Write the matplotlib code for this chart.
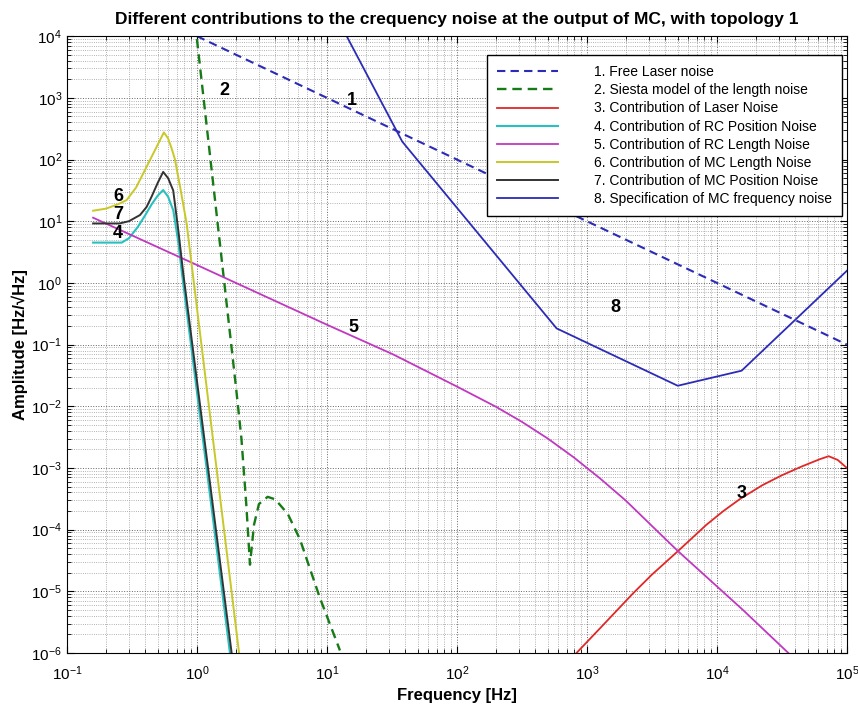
"""
Noise budget at the output of the mode cleaner (topology 1).
Log-log plot of the contributions to the frequency noise.
"""

import numpy as np
import matplotlib
matplotlib.use("Agg")
import matplotlib.pyplot as plt
from matplotlib.ticker import LogLocator

# --- Curve data ---
# 1. Free laser noise
f_laser_free = [1.0, 1e5]
a_laser_free = [1e4, 0.1]

# 2. Siesta model of the length noise
f_siesta = [1.0, 1.5, 2.0, 2.2, 2.4, 2.56, 2.75, 3.0, 3.5, 4.0, 5.0, 6.2, 8.8, 12.6]
a_siesta = [9e3, 4.5, 2e-2, 3e-3, 2.5e-4, 2.7e-5, 1.2e-4, 2.6e-4, 3.4e-4,
            3.1e-4, 1.8e-4, 7e-5, 8e-6, 1.1e-6]

# 3. Contribution of laser noise
f_laser = [832, 1259, 2270, 3162, 5012, 8318, 11220, 15140, 22390, 31620,
           44670, 61660, 72440, 85000, 1e5]
a_laser = [1e-6, 2.5e-6, 9.3e-6, 1.86e-5, 4.47e-5, 1.2e-4, 2.0e-4, 3.16e-4,
           5.25e-4, 7.6e-4, 1.05e-3, 1.38e-3, 1.55e-3, 1.35e-3, 1.0e-3]

# 4. Contribution of RC position noise
f_rc_pos = [0.159, 0.264, 0.30, 0.35, 0.40, 0.45, 0.50, 0.55, 0.60, 0.658, 0.72, 0.762, 1.795]
a_rc_pos = [4.5, 4.5, 5.3, 8, 12.5, 19, 26, 32, 25, 15, 4.5, 1.6, 1e-6]

# 5. Contribution of RC length noise
f_rc_len = [0.159, 1, 10, 32, 100, 200, 316, 500, 794, 1259, 1995, 3162,
            5012, 15850, 35480]
a_rc_len = [11.4, 1.95, 0.21, 0.07, 0.0209, 9.8e-3, 5.6e-3, 3.0e-3, 1.48e-3,
            6.8e-4, 2.95e-4, 1.15e-4, 4.5e-5, 5.0e-6, 1.0e-6]

# 6. Contribution of MC length noise
f_mc_len = [0.159, 0.20, 0.25, 0.288, 0.34, 0.41, 0.49, 0.557, 0.60, 0.64,
            0.678, 0.75, 0.834, 2.11]
a_mc_len = [14.8, 16, 19, 22, 35, 76, 161, 275, 220, 150, 100, 32, 9.1, 1e-6]

# 7. Contribution of MC position noise
f_mc_pos = [0.159, 0.254, 0.30, 0.365, 0.41, 0.448, 0.50, 0.55, 0.60, 0.657,
            0.72, 0.785, 1.85]
a_mc_pos = [9.2, 9.2, 10, 12.6, 17, 25, 42, 63, 50, 31.6, 7, 1.43, 1e-6]

# 8. Specification of MC frequency noise
f_spec = [14.2, 38, 585, 5000, 15500, 1e5]
a_spec = [1e4, 195, 0.183, 0.0215, 0.0377, 1.57]

LABELS = [
    "1. Free Laser noise",
    "2. Siesta model of the length noise",
    "3. Contribution of Laser Noise",
    "4. Contribution of RC Position Noise",
    "5. Contribution of RC Length Noise",
    "6. Contribution of MC Length Noise",
    "7. Contribution of MC Position Noise",
    "8. Specification of MC frequency noise",
]

# --- Style ---
plt.rcParams.update({
    "font.family": ["Liberation Sans", "DejaVu Sans"],
    "xtick.direction": "in",
    "ytick.direction": "in",
    "xtick.top": True,
    "ytick.right": True,
})

fig = plt.figure(figsize=(8.58, 7.09), dpi=100)
ax = fig.add_axes([0.078, 0.079, 0.909, 0.870])

ax.loglog(f_laser_free, a_laser_free, color="#2b2bb8", lw=1.5, ls=(0, (4, 2.5)), label=LABELS[0])
ax.loglog(f_siesta, a_siesta, color="#167a16", lw=1.7, ls=(0, (4, 2.5)), label=LABELS[1])
ax.loglog(f_laser, a_laser, color="#e02828", lw=1.3, label=LABELS[2])
ax.loglog(f_rc_pos, a_rc_pos, color="#28c0c0", lw=1.5, label=LABELS[3])
ax.loglog(f_rc_len, a_rc_len, color="#c038c0", lw=1.3, label=LABELS[4])
ax.loglog(f_mc_len, a_mc_len, color="#c8c828", lw=1.4, label=LABELS[5])
ax.loglog(f_mc_pos, a_mc_pos, color="#333333", lw=1.4, label=LABELS[6])
ax.loglog(f_spec, a_spec, color="#2b2bb8", lw=1.3, label=LABELS[7])

# Curve number tags
tags = [("1", 15.5, 910), ("2", 1.64, 1330), ("3", 15500, 3.9e-4), ("4", 0.244, 6.3),
        ("5", 15.9, 0.19), ("6", 0.248, 25.5), ("7", 0.248, 12.9), ("8", 1670, 0.4)]
for txt, x, y in tags:
    ax.text(x, y, txt, fontsize=13, fontweight="bold", ha="center", va="center")

# --- Axes ---
ax.set_xlim(0.1, 1e5)
ax.set_ylim(1e-6, 1e4)
ax.xaxis.set_major_locator(LogLocator(base=10, numticks=20))
ax.yaxis.set_major_locator(LogLocator(base=10, numticks=20))
ax.xaxis.set_minor_locator(LogLocator(base=10, subs=np.arange(2, 10), numticks=100))
ax.yaxis.set_minor_locator(LogLocator(base=10, subs=np.arange(2, 10), numticks=100))
ax.tick_params(which="major", length=5, labelsize=11)
ax.tick_params(which="minor", length=3, labelbottom=False, labelleft=False)
ax.tick_params(axis="x", pad=8)

ax.grid(True, which="major", ls=":", color="#666666", lw=0.7)
ax.grid(True, which="minor", ls=":", color="#999999", lw=0.6)

ax.set_title("Different contributions to the crequency noise at the output of MC, with topology 1",
             fontsize=12.5, fontweight="bold", pad=9)
ax.set_xlabel("Frequency [Hz]", fontsize=12, fontweight="bold", labelpad=4)
ax.set_ylabel("Amplitude [Hz/\u221aHz]", fontsize=12, fontweight="bold", labelpad=2)

ax.legend(loc="upper left", bbox_to_anchor=(0.53, 0.98), fontsize=10,
          handlelength=4.4, handletextpad=2.6, labelspacing=0.3, borderpad=0.7,
          fancybox=False, edgecolor="black", framealpha=1)

plt.savefig("out.png", dpi=100)
plt.close()
